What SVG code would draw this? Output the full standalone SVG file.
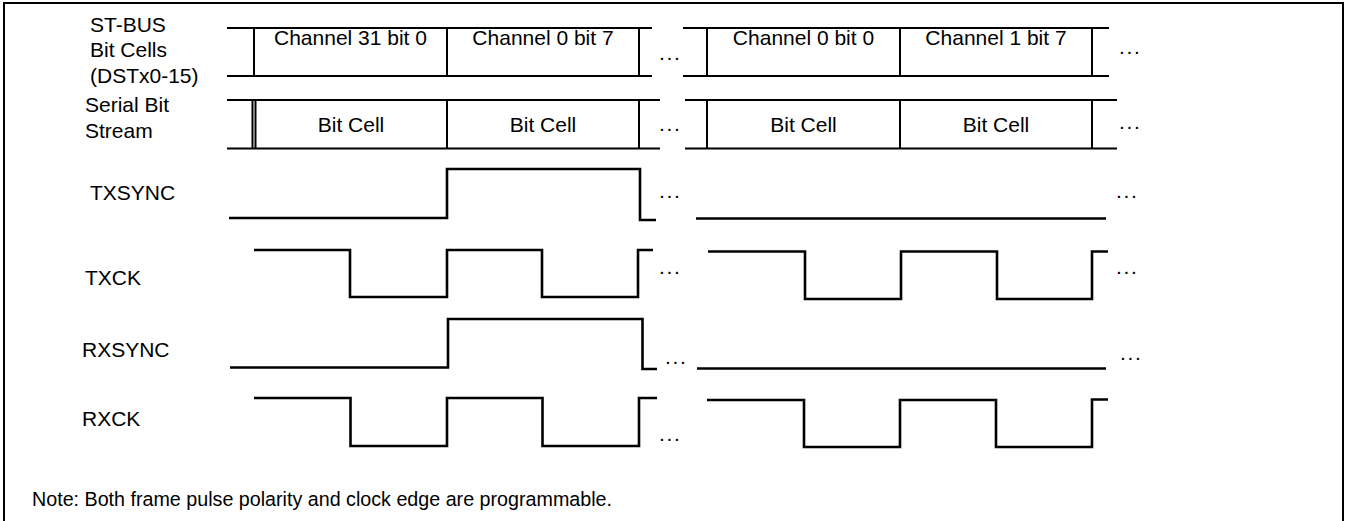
<svg xmlns="http://www.w3.org/2000/svg" width="1346" height="521" viewBox="0 0 1346 521">
<style>
.t{font-family:"Liberation Sans",Arial,sans-serif;font-size:21px;fill:#000}
.c{text-anchor:middle}
.d{font-family:"Liberation Sans",Arial,sans-serif;font-size:21px;letter-spacing:1.7px;fill:#000}
.bus{fill:none;stroke:#000;stroke-width:2}
.w{fill:none;stroke:#000;stroke-width:2.6;stroke-linejoin:miter}
</style>
<rect x="4" y="3" width="1339" height="540" fill="#fff" stroke="#000" stroke-width="2"/>
<g id="stbus">
<text class="t" x="90" y="32">ST-BUS</text>
<text class="t" x="90" y="57">Bit Cells</text>
<text class="t" x="90" y="83">(DSTx0-15)</text>
<path class="bus" d="M227,28 H652 M227,76 H652 M683,28 H1109 M683,76 H1109 M254,28 V76 M447,28 V76 M639,28 V76 M707,28 V76 M900,28 V76 M1092,28 V76"/>
<text class="t c" x="350.5" y="45">Channel 31 bit 0</text>
<text class="t c" x="543" y="45">Channel 0 bit 7</text>
<text class="t c" x="803.5" y="45">Channel 0 bit 0</text>
<text class="t c" x="996" y="45">Channel 1 bit 7</text>
<text class="d" x="659" y="60">...</text>
<text class="d" x="1119" y="54">...</text>
</g>
<g id="serial">
<text class="t" x="85" y="111.5">Serial Bit</text>
<text class="t" x="85" y="137.5">Stream</text>
<path class="bus" d="M227,100 H660 M227,148.5 H660 M685,100 H1117 M685,148.5 H1117 M252.5,100 V148.5 M255.5,100 V148.5 M447,100 V148.5 M639,100 V148.5 M707,100 V148.5 M900,100 V148.5 M1092,100 V148.5"/>
<text class="t c" x="351" y="132">Bit Cell</text>
<text class="t c" x="543" y="132">Bit Cell</text>
<text class="t c" x="803.5" y="132">Bit Cell</text>
<text class="t c" x="996" y="132">Bit Cell</text>
<text class="d" x="659" y="131">...</text>
<text class="d" x="1119" y="129">...</text>
</g>
<g id="txsync">
<text class="t" x="90" y="200">TXSYNC</text>
<path class="w" d="M229,218 H447 V169 H640 V220 H656"/>
<path class="w" d="M696,218.5 H1106"/>
<text class="d" x="659" y="198">...</text>
<text class="d" x="1116" y="198">...</text>
</g>
<g id="txck">
<text class="t" x="85" y="285">TXCK</text>
<path class="w" d="M254,250 H350 V297 H447 V250 H542 V297 H638 V250 H653"/>
<path class="w" d="M708,251.5 H805 V299 H901 V251.5 H997 V299 H1092 V251.5 H1108"/>
<text class="d" x="659" y="274">...</text>
<text class="d" x="1116" y="274">...</text>
</g>
<g id="rxsync">
<text class="t" x="82" y="357">RXSYNC</text>
<path class="w" d="M230,367.5 H448 V319 H642.5 V369 H657"/>
<path class="w" d="M697,368.5 H1106"/>
<text class="d" x="665" y="364">...</text>
<text class="d" x="1120" y="360">...</text>
</g>
<g id="rxck">
<text class="t" x="82" y="426">RXCK</text>
<path class="w" d="M254,398 H350.5 V446 H447 V398 H542.5 V446 H639 V398 H657"/>
<path class="w" d="M707,400 H804 V447 H900 V400 H996 V447 H1092 V399.5 H1108"/>
<text class="d" x="659" y="441">...</text>
</g>
<text id="note" class="t" x="32" y="505.5" style="font-size:19.7px">Note: Both frame pulse polarity and clock edge are programmable.</text>
</svg>
